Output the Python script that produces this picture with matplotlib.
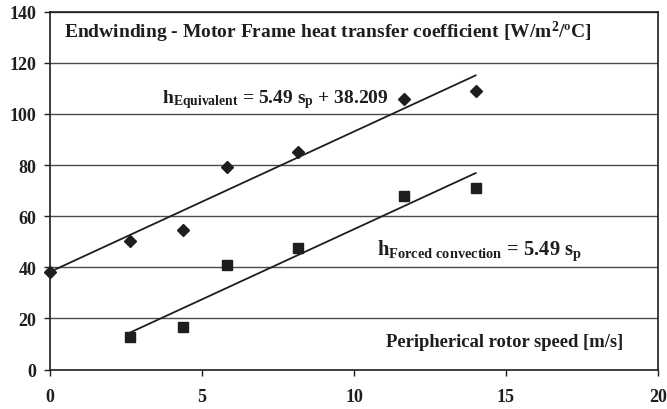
import matplotlib
matplotlib.use("Agg")
import matplotlib.pyplot as plt
import numpy as np

plt.rcParams["font.family"] = ["Liberation Serif", "DejaVu Serif"]
plt.rcParams["font.weight"] = "bold"
plt.rcParams["mathtext.fontset"] = "custom"
plt.rcParams["mathtext.rm"] = "Liberation Serif:bold"
plt.rcParams["mathtext.bf"] = "Liberation Serif:bold"
plt.rcParams["mathtext.it"] = "Liberation Serif:bold"

# Data
speed_eq = [0.0, 2.62, 4.37, 5.83, 8.16, 11.65, 14.0]
h_eq = [38.2, 50.4, 54.4, 79.4, 85.3, 105.7, 109.1]

speed_fc = [2.62, 4.37, 5.83, 8.16, 11.65, 14.0]
h_fc = [12.6, 16.5, 41.0, 47.5, 68.0, 71.2]

slope = 5.49
intercept = 38.209

x_ticks = [0, 5, 10, 15, 20]
y_ticks = [0, 20, 40, 60, 80, 100, 120, 140]

ink = "#1e1e1e"

fig = plt.figure(figsize=(6.67, 4.10), dpi=100)
ax = fig.add_axes([0.075, 0.0963, 0.9115, 0.8727])

# horizontal gridlines
for yv in y_ticks[1:]:
    ax.axhline(yv, color="#4a4a4a", linewidth=1.0, zorder=1)

# trend lines
xe = np.array([min(speed_eq), max(speed_eq)])
ax.plot(xe, slope * xe + intercept, color=ink, linewidth=1.3, zorder=2)
xf = np.array([min(speed_fc), max(speed_fc)])
ax.plot(xf, slope * xf, color=ink, linewidth=1.3, zorder=2)

# data points
ax.plot(speed_eq, h_eq, linestyle="none", marker="D", markersize=6.2,
        color=ink, clip_on=False, zorder=3)
ax.plot(speed_fc, h_fc, linestyle="none", marker="s", markersize=6.6,
        color=ink, clip_on=False, zorder=3)

ax.set_xlim(0, 20)
ax.set_ylim(0, 140)
ax.set_xticks(x_ticks)
ax.set_yticks(y_ticks)
ax.tick_params(direction="out", length=4, width=1, color=ink,
               labelsize=13, labelcolor=ink)
ax.tick_params(axis="x", pad=9)
ax.tick_params(axis="y", pad=6)
for lab in ax.get_xticklabels() + ax.get_yticklabels():
    lab.set_fontweight("bold")

for side in ["left", "right", "top", "bottom"]:
    ax.spines[side].set_color(ink)
    ax.spines[side].set_linewidth(1.2)

ax.text(0.46, 129.9, r"Endwinding - Motor Frame heat transfer coefficient [W/m$^{\mathbf{2}}$/ºC]",
        fontsize=14, fontweight="bold", color=ink, ha="left", va="baseline")

ax.text(3.67, 104.4, r"h$_{\mathrm{Equivalent}}$ = 5.49 s$_{\mathrm{p}}$ + 38.209",
        fontsize=14, fontweight="bold", color=ink, ha="left", va="baseline")

ax.text(10.76, 45.1, r"h$_{\mathrm{Forced\ convection}}$ = 5.49 s$_{\mathrm{p}}$",
        fontsize=14.8, fontweight="bold", color=ink, ha="left", va="baseline")

ax.text(18.85, 9.2, "Peripherical rotor speed [m/s]",
        fontsize=13.4, fontweight="bold", color=ink, ha="right", va="baseline")

fig.savefig("out.png", dpi=100)
